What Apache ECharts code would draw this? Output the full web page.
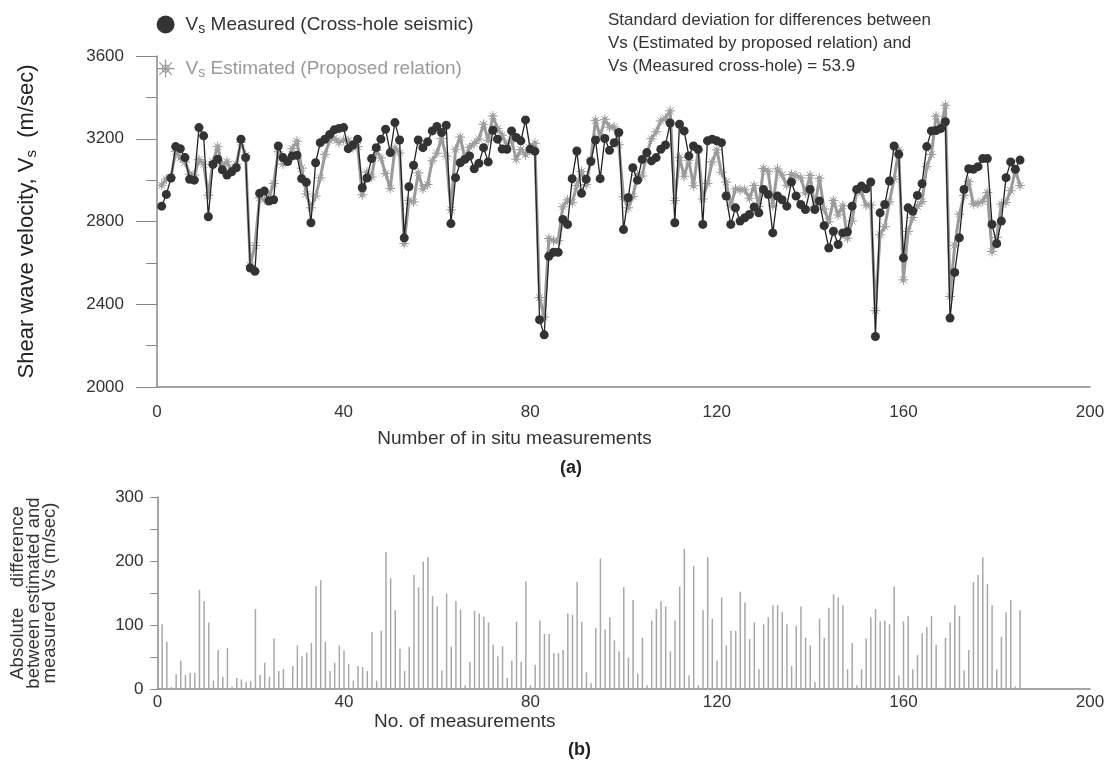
<!DOCTYPE html>
<html>
<head>
<meta charset="utf-8">
<title>Vs measured vs estimated</title>
<script src="https://cdn.jsdelivr.net/npm/echarts@6/dist/echarts.min.js"></script>
<style>
  html, body { margin: 0; padding: 0; background: #fff; }
  #chart { width: 1110px; height: 773px; }
</style>
</head>
<body>
<div id="chart"></div>
<script>
// ==================== data ====================

// Vs measured by cross-hole seismic, measurements 1..185
const measured = [
    2874, 2931, 3010, 3162, 3152, 3109, 3004, 3000, 3254, 3214,
    2823, 3076, 3101, 3050, 3025, 3040, 3060, 3198, 3109, 2575,
    2559, 2936, 2947, 2899, 2905, 3165, 3109, 3090, 3117, 3120,
    3007, 2990, 2794, 3084, 3181, 3198, 3220, 3243, 3250, 3254,
    3152, 3170, 3198, 2963, 3010, 3104, 3157, 3198, 3246, 3133,
    3278, 3194, 2721, 2968, 3072, 3194, 3157, 3185, 3238, 3259,
    3230, 3265, 2790, 3012, 3084, 3100, 3117, 3055, 3081, 3157,
    3088, 3241, 3198, 3150, 3149, 3238, 3206, 3190, 3291, 3150,
    3140, 2325, 2252, 2632, 2651, 2651, 2810, 2786, 3007, 3141,
    2936, 3004, 3090, 3194, 3007, 3201, 3144, 3181, 3230, 2761,
    2915, 3060, 3000, 3100, 3133, 3093, 3109, 3149, 3170, 3276,
    2794, 3270, 3238, 3117, 3165, 3149, 2786, 3190, 3198, 3190,
    3181, 2923, 2786, 2866, 2802, 2818, 2834, 2870, 2842, 2955,
    2930, 2745, 2923, 2905, 2874, 2991, 2923, 2882, 2858, 2955,
    2858, 2899, 2780, 2672, 2753, 2689, 2745, 2750, 2874, 2955,
    2971, 2958, 2991, 2244, 2842, 2882, 2996, 3165, 3125, 2624,
    2866, 2850, 2926, 2983, 3162, 3238, 3240, 3249, 3282, 2333,
    2554, 2721, 2955, 3055, 3052, 3065, 3104, 3104, 2786, 2693,
    2802, 3012, 3088, 3052, 3097
];

// Vs estimated by the proposed relation
const estimated = [
    2975, 3005, 3013, 3139, 3108, 3087, 3029, 3025, 3099, 3077,
    2927, 3089, 3162, 3069, 3089, 3044, 3077, 3183, 3120, 2587,
    2684, 2914, 2906, 2918, 2984, 3137, 3078, 3092, 3153, 3188,
    3058, 2933, 2866, 2923, 3011, 3124, 3192, 3202, 3182, 3194,
    3191, 3157, 3162, 2929, 3038, 3015, 3144, 3107, 3032, 2960,
    3155, 3131, 2693, 2902, 2894, 3035, 2958, 2979, 3093, 3130,
    3201, 3116, 2856, 3149, 3208, 3106, 3159, 3177, 3199, 3270,
    3192, 3310, 3249, 3217, 3166, 3194, 3101, 3148, 3123, 3156,
    3178, 2432, 2338, 2718, 2707, 2707, 2871, 2904, 2891, 2974,
    3041, 2978, 3099, 3289, 3211, 3294, 3256, 3257, 3171, 2920,
    2866, 2921, 3024, 3020, 3127, 3200, 3234, 3286, 3299, 3335,
    2901, 3110, 3019, 3096, 2973, 3143, 2909, 2984, 3088, 3146,
    3038, 2991, 2877, 2957, 2954, 2953, 2912, 2974, 2873, 3056,
    3042, 2876, 3054, 3025, 2975, 3027, 3022, 3011, 2938, 3023,
    2869, 3009, 2860, 2799, 2901, 2832, 2876, 2719, 2802, 2949,
    2940, 2879, 2879, 2369, 2736, 2775, 2895, 3005, 3146, 2518,
    2752, 2819, 2873, 2896, 3065, 3124, 3309, 3251, 3362, 2437,
    2685, 2835, 2926, 2994, 2885, 2887, 2898, 2940, 2655, 2724,
    2884, 2892, 2949, 3048, 2974
];

// absolute difference between estimated and measured (panel b)
const absDiff = [
    101, 74, 3, 23, 44, 22, 25, 25, 155, 137,
    104, 13, 61, 19, 64, 4, 17, 15, 11, 12,
    125, 22, 41, 19, 79, 28, 31, 2, 36, 68,
    51, 57, 72, 161, 170, 74, 28, 41, 68, 60,
    39, 13, 36, 34, 28, 89, 13, 91, 214, 173,
    123, 63, 28, 66, 178, 159, 199, 206, 145, 129,
    29, 149, 66, 137, 124, 6, 42, 122, 118, 113,
    104, 69, 51, 67, 17, 44, 105, 42, 168, 6,
    38, 107, 86, 86, 56, 56, 61, 118, 116, 167,
    105, 26, 9, 95, 204, 93, 112, 76, 59, 159,
    49, 139, 24, 80, 6, 107, 125, 137, 129, 59,
    107, 160, 219, 21, 192, 6, 123, 206, 110, 44,
    143, 68, 91, 91, 152, 135, 78, 104, 31, 101,
    112, 131, 131, 120, 101, 36, 99, 129, 80, 68,
    11, 110, 80, 127, 148, 143, 131, 31, 72, 6,
    31, 79, 112, 125, 106, 107, 101, 160, 21, 106,
    114, 31, 53, 87, 97, 114, 69, 2, 80, 104,
    131, 114, 29, 61, 167, 178, 206, 164, 131, 31,
    82, 120, 139, 4, 123
];

const stdNote = [
    'Standard deviation for differences between',
    'Vs (Estimated by proposed relation) and',
    'Vs (Measured cross-hole) = 53.9'
];

// ==================== helpers ====================

const FONT = "'Liberation Sans', Arial, sans-serif";
const DARK = '#333333';
const GREY = '#9a9a9a';
const STAR = 'path://M0,-10L0,10M-10,0L10,0M-7,-7L7,7M-7,7L7,-7M-4,0A4,4,0,1,0,4,0A4,4,0,1,0,-4,0';

const pairs = arr => arr.map((v, i) => [i + 1, v]);
const plain = v => String(v);

const chart = echarts.init(document.getElementById('chart'), null, { renderer: 'canvas' });

const axisLine = { show: true, lineStyle: { color: '#888', width: 1.5 } };

const option = {
    animation: false,
    backgroundColor: '#fff',
    textStyle: { fontFamily: FONT },
    legend: {
        orient: 'vertical',
        left: 151,
        top: 10,
        itemGap: 23,
        itemWidth: 18,
        itemHeight: 18,
        textStyle: {
            fontSize: 19,
            fontFamily: FONT,
            padding: [0, 0, 0, 6],
            rich: {
                s: { fontSize: 14, verticalAlign: 'bottom', padding: [9, 0, 0, 0] }
            }
        },
        formatter: name => name === 'measured'
            ? 'V{s|s} Measured (Cross-hole seismic)'
            : 'V{s|s} Estimated (Proposed relation)',
        data: [
            { name: 'measured', icon: 'circle', itemStyle: { color: DARK }, textStyle: { color: DARK } },
            { name: 'estimated', icon: STAR, itemStyle: { color: '#fff', borderColor: GREY, borderWidth: 1.2 }, textStyle: { color: GREY } }
        ]
    },
    graphic: [
        {
            type: 'text', left: 608, top: 9,
            style: { text: stdNote.join('\n'), font: '17px ' + FONT, fill: DARK, lineHeight: 23 }
        },
        {
            type: 'text', left: 560, top: 459,
            style: { text: '(a)', font: 'bold 18px ' + FONT, fill: '#222' }
        },
        {
            type: 'text', left: 568, top: 741,
            style: { text: '(b)', font: 'bold 18px ' + FONT, fill: '#222' }
        }
    ],
    grid: [
        { left: 157, top: 56, width: 933, height: 331 },
        { left: 157, top: 497, width: 933, height: 192 }
    ],
    xAxis: [
        {
            type: 'value', gridIndex: 0, min: 0, max: 200, interval: 40,
            axisLine: axisLine, axisTick: { show: false }, splitLine: { show: false },
            axisLabel: { fontSize: 17, color: DARK, margin: 17, fontFamily: FONT },
            name: 'Number of in situ measurements',
            nameLocation: 'middle', nameGap: 42,
            nameTextStyle: { fontSize: 19, color: DARK, fontFamily: FONT, padding: [0, 218, 0, 0] }
        },
        {
            type: 'value', gridIndex: 1, min: 0, max: 200, interval: 40,
            axisLine: axisLine, axisTick: { show: false }, splitLine: { show: false },
            axisLabel: { fontSize: 17, color: DARK, margin: 5, fontFamily: FONT },
            name: 'No. of measurements',
            nameLocation: 'middle', nameGap: 18,
            nameTextStyle: { fontSize: 19, color: DARK, fontFamily: FONT, padding: [0, 318, 0, 0] }
        }
    ],
    yAxis: [
        {
            type: 'value', gridIndex: 0, min: 2000, max: 3600, interval: 400,
            axisLine: axisLine,
            axisTick: { show: true, inside: false, length: 21, lineStyle: { color: '#888' } },
            minorTick: { show: true, splitNumber: 2, length: 11, lineStyle: { color: '#888' } },
            splitLine: { show: false },
            axisLabel: { fontSize: 17, color: DARK, margin: 33, fontFamily: FONT, formatter: plain },
            name: 'Shear wave velocity, V{s|s}  (m/sec)',
            nameLocation: 'middle', nameGap: 118, nameRotate: 90,
            nameTextStyle: {
                fontSize: 22, color: '#222', fontFamily: FONT,
                rich: { s: { fontSize: 15, padding: [10, 0, 0, 0], color: '#222' } }
            }
        },
        {
            type: 'value', gridIndex: 1, min: 0, max: 300, interval: 100,
            axisLine: axisLine,
            axisTick: { show: true, inside: false, length: 7, lineStyle: { color: '#888' } },
            minorTick: { show: true, splitNumber: 2, length: 7, lineStyle: { color: '#888' } },
            splitLine: { show: false },
            axisLabel: { fontSize: 17, color: DARK, margin: 14, fontFamily: FONT, formatter: plain },
            name: 'Absolute    difference\nbetween estimated and\nmeasured  Vs (m/sec)',
            nameLocation: 'middle', nameGap: 100, nameRotate: 90,
            nameTextStyle: { fontSize: 18.5, color: DARK, fontFamily: FONT, lineHeight: 16, align: 'center' }
        }
    ],
    series: [
        {
            name: 'estimated', type: 'line', xAxisIndex: 0, yAxisIndex: 0,
            data: pairs(estimated),
            symbol: STAR, symbolSize: 10,
            itemStyle: { color: '#fff', borderColor: GREY, borderWidth: 1 },
            lineStyle: { color: GREY, width: 3 },
            z: 2
        },
        {
            name: 'measured', type: 'line', xAxisIndex: 0, yAxisIndex: 0,
            data: pairs(measured),
            symbol: 'circle', symbolSize: 9,
            itemStyle: { color: DARK },
            lineStyle: { color: '#222', width: 1.3 },
            z: 3
        },
        {
            name: 'diff', type: 'bar', xAxisIndex: 1, yAxisIndex: 1,
            data: pairs(absDiff),
            barWidth: 1.5,
            itemStyle: { color: '#a8a8a8' }
        }
    ]
};

chart.setOption(option);
</script>
</body>
</html>
